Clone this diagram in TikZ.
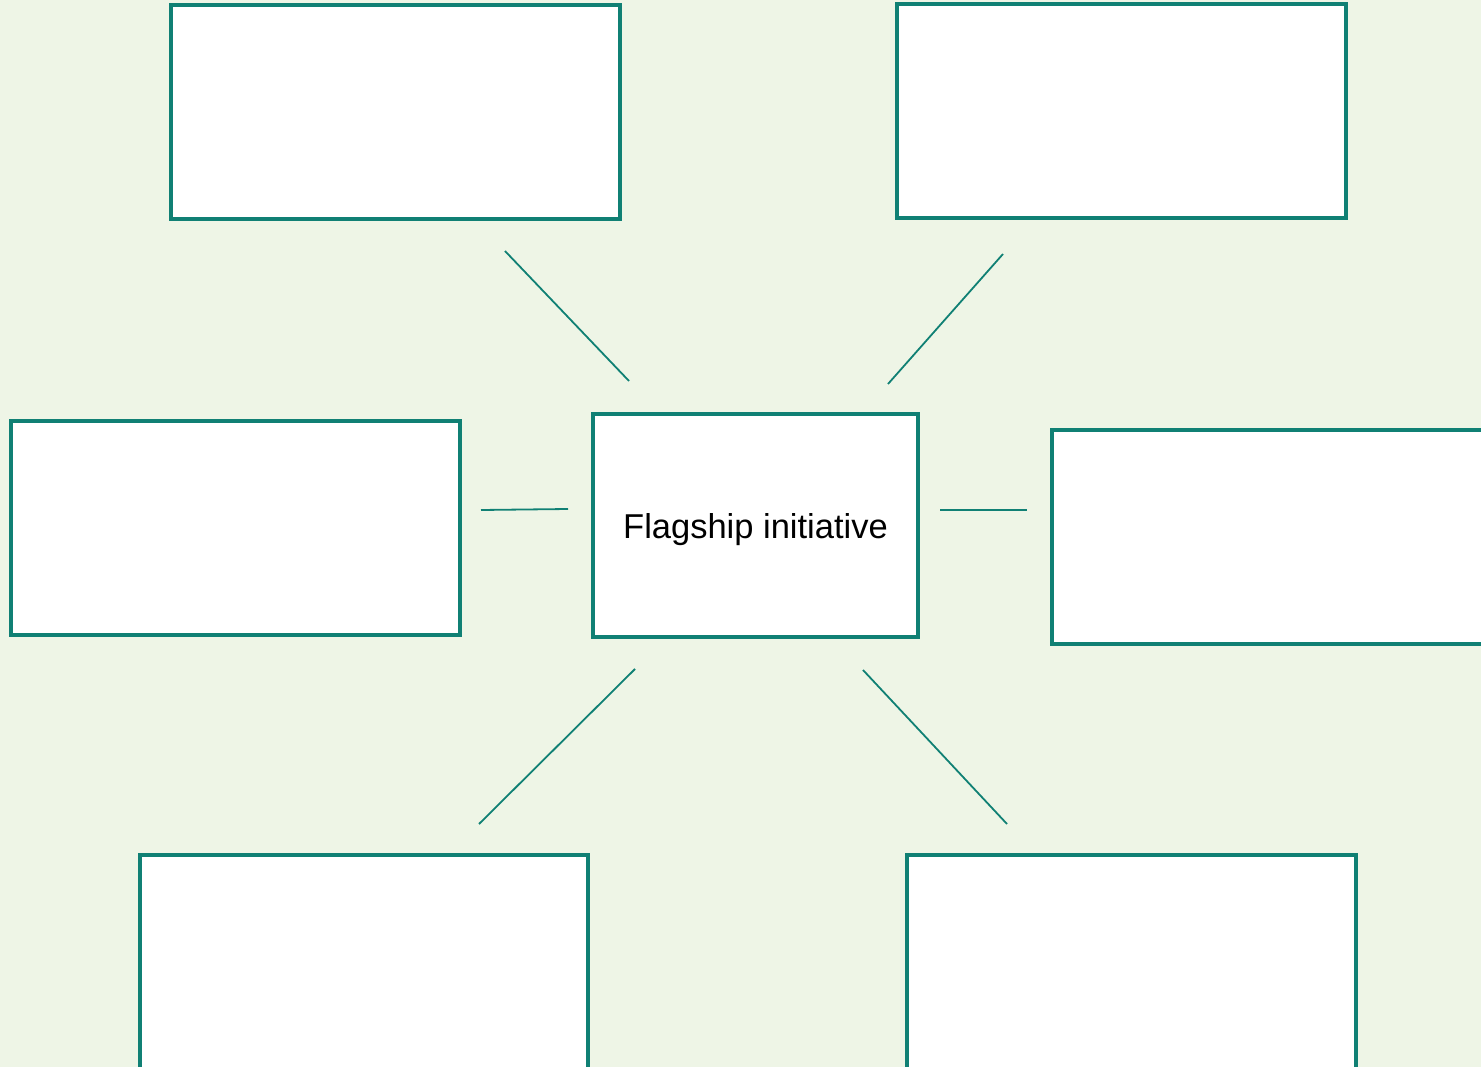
\documentclass[tikz,border=0pt]{standalone}
\usepackage{fontspec}
\setmainfont{Liberation Sans}
\definecolor{teal1}{RGB}{16,128,116}
\definecolor{bg}{RGB}{238,245,230}
\begin{document}
\begin{tikzpicture}[x=1pt,y=-1pt,
  box/.style={draw=teal1,line width=3.5pt,fill=white},
  link/.style={draw=teal1,line width=1.8pt}]
\useasboundingbox (0,0) rectangle (1481,1067);
\clip (0,0) rectangle (1481,1067);
\fill[bg] (0,0) rectangle (1481,1067);
\draw[box] (171,5) rectangle (620,219);
\draw[box] (897,4) rectangle (1346,218);
\draw[box] (11,421) rectangle (460,635);
\draw[box] (1052,430) rectangle (1501,644);
\draw[box] (140,855) rectangle (588,1069);
\draw[box] (907,855) rectangle (1356,1069);
\draw[box] (593,414) rectangle (918,637);
\node[font=\fontsize{34.5pt}{40pt}\selectfont,anchor=base] (center) at (755.5,538) {Flagship initiative};
\coordinate (a1) at (505,251); \coordinate (a2) at (629,381);
\coordinate (b1) at (1003,254); \coordinate (b2) at (888,384);
\coordinate (c1) at (481,510); \coordinate (c2) at (568,509);
\coordinate (d1) at (940,510); \coordinate (d2) at (1027,510);
\coordinate (e1) at (635,669); \coordinate (e2) at (479,824);
\coordinate (f1) at (863,670); \coordinate (f2) at (1007,824);
\draw[link] (a1) -- (a2);
\draw[link] (b1) -- (b2);
\draw[link] (c1) -- (c2);
\draw[link] (d1) -- (d2);
\draw[link] (e1) -- (e2);
\draw[link] (f1) -- (f2);
\end{tikzpicture}
\end{document}
